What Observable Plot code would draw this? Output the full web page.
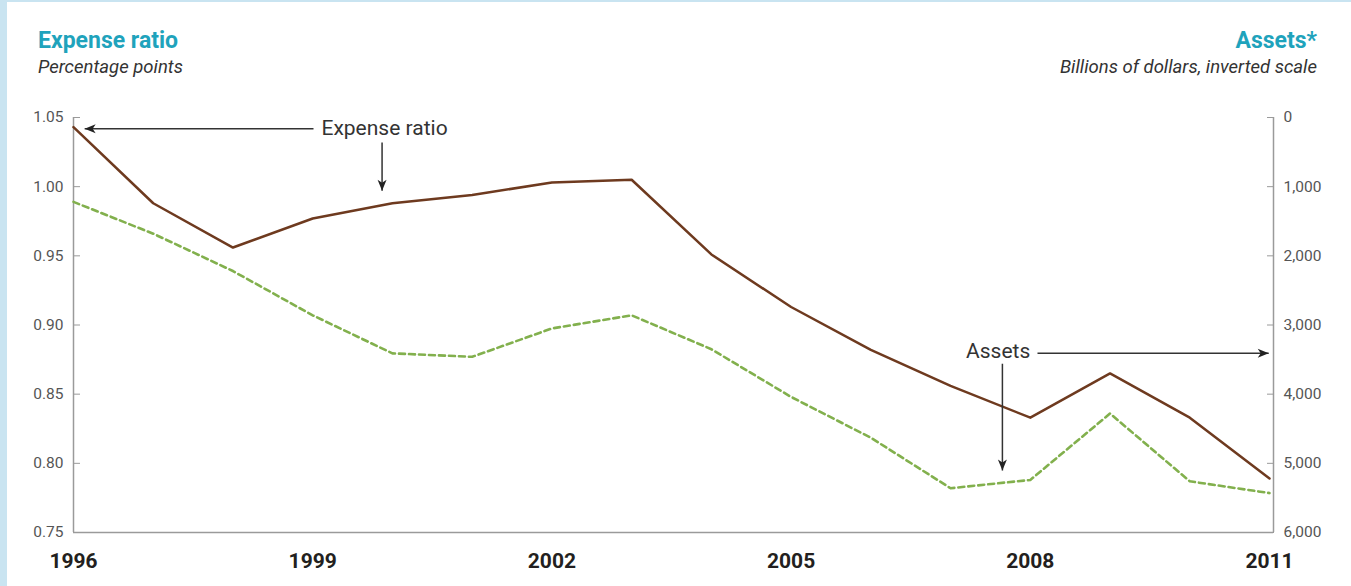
<!DOCTYPE html>
<html>
<head>
<meta charset="utf-8">
<script src="https://cdn.jsdelivr.net/npm/d3@7"></script>
<script src="https://cdn.jsdelivr.net/npm/@observablehq/plot@0.6"></script>
<style>
  html, body { margin: 0; padding: 0; background: #fff; }
  body { width: 1344px; height: 584px; border-left: 7px solid #c9e4f1; border-top: 2px solid #c9e4f1; font-family: Roboto, sans-serif; overflow: hidden; }
  #head { position: relative; height: 98px; }
  .title { position: absolute; font-size: 23px; font-weight: 700; color: #1fa3bc; line-height: 23px; white-space: nowrap; }
  .sub { position: absolute; font-size: 18.5px; font-style: italic; color: #333; line-height: 18px; white-space: nowrap; }
  #chart svg { display: block; }
</style>
</head>
<body>
<div id="head">
  <div class="title" style="left:31px; top:27px;">Expense ratio</div>
  <div class="sub" style="left:31px; top:56px;">Percentage points</div>
  <div class="title" style="right:34px; top:27px;">Assets*</div>
  <div class="sub" style="right:34px; top:56px;">Billions of dollars, inverted scale</div>
</div>
<div id="chart"></div>
<script>
// ---- data ----
const years = [1996, 1997, 1998, 1999, 2000, 2001, 2002, 2003, 2004, 2005, 2006, 2007, 2008, 2009, 2010, 2011];
const expenseRatio = [1.043, 0.988, 0.956, 0.977, 0.988, 0.994, 1.003, 1.005, 0.951, 0.913, 0.882, 0.856, 0.833, 0.865, 0.833, 0.789];
const assets = [1220, 1680, 2220, 2860, 3410, 3460, 3050, 2860, 3350, 4040, 4630, 5360, 5240, 4280, 5260, 5430];
const leftTicks = [0.75, 0.80, 0.85, 0.90, 0.95, 1.00, 1.05];
const rightTicks = [0, 1000, 2000, 3000, 4000, 5000, 6000];
const xTicks = [1996, 1999, 2002, 2005, 2008, 2011];

// annotation labels and arrows (data units: year, expense-ratio scale)
const startLabels = [{x: 1999.11, y: 1.042, text: "Expense ratio"}];
const endLabels = [{x: 2008.0, y: 0.881, text: "Assets"}];
const arrows = [
  {x1: 1999.01, y1: 1.0418, x2: 1996.14, y2: 1.0418, rot: -90},
  {x1: 1999.87, y1: 1.032, x2: 1999.87, y2: 0.997, rot: 180},
  {x1: 2008.09, y1: 0.8796, x2: 2010.99, y2: 0.8796, rot: 90},
  {x1: 2007.65, y1: 0.872, x2: 2007.65, y2: 0.7948, rot: 180}
];

// right (assets, inverted) axis mapped onto the left scale
const yMin = 0.75, yMax = 1.05, aMax = 6000;
const toLeft = a => yMax - (a / aMax) * (yMax - yMin);
const toAssets = v => (yMax - v) / (yMax - yMin) * aMax;

const table = years.map((year, i) => ({year, expense: expenseRatio[i], assets: assets[i]}));

const arrowHead = {
  draw(ctx) {
    ctx.moveTo(0, 0);
    ctx.lineTo(-4.5, 11);
    ctx.lineTo(0, 8);
    ctx.lineTo(4.5, 11);
    ctx.closePath();
  }
};

const axisColor = "#9a9a9a";

const chart = Plot.plot({
  width: 1344,
  height: 486,
  marginLeft: 66,
  marginRight: 78,
  marginTop: 17,
  marginBottom: 54,
  x: {domain: [1996, 2011.05]},
  y: {domain: [yMin, yMax]},
  style: {fontFamily: "Roboto, sans-serif", background: "transparent", overflow: "visible"},
  marks: [
    // axis lines
    Plot.ruleX([1996], {stroke: axisColor, strokeWidth: 1.5}),
    Plot.ruleX([2011.05], {stroke: axisColor, strokeWidth: 1.5}),
    Plot.ruleY([yMin], {stroke: axisColor, strokeWidth: 1.5}),
    // left axis
    Plot.axisY(leftTicks, {
      anchor: "left", tickSize: 7, dx: 7, tickPadding: 10,
      tickFormat: d3.format(".2f"), fontSize: 15.5, stroke: axisColor, fill: "#555", label: null
    }),
    // right axis (assets, inverted)
    Plot.axisY(rightTicks.map(toLeft), {
      anchor: "right", tickSize: 7, dx: -7, tickPadding: 10,
      tickFormat: v => d3.format(",")(Math.round(toAssets(v))), fontSize: 15.5, stroke: axisColor, fill: "#555", label: null
    }),
    // x axis
    Plot.axisX(xTicks, {
      anchor: "bottom", tickSize: 0, tickPadding: 21, tickFormat: d => String(d),
      fontSize: 21, fontWeight: 700, fill: "#231f20", label: null
    }),
    // series
    Plot.line(table, {x: "year", y: d => toLeft(d.assets), stroke: "#82b04d", strokeWidth: 2.6, strokeDasharray: "6,4"}),
    Plot.line(table, {x: "year", y: "expense", stroke: "#6e3a1f", strokeWidth: 2.5}),
    // annotations
    Plot.link(arrows, {x1: "x1", y1: "y1", x2: "x2", y2: "y2", stroke: "#333", strokeWidth: 1.5}),
    Plot.dot(arrows, {x: "x2", y: "y2", symbol: arrowHead, rotate: "rot", fill: "#222", stroke: null, r: 5}),
    Plot.text(startLabels, {x: "x", y: "y", text: "text", textAnchor: "start", fontSize: 21, fill: "#333", lineAnchor: "middle"}),
    Plot.text(endLabels, {x: "x", y: "y", text: "text", textAnchor: "end", fontSize: 21, fill: "#333", lineAnchor: "middle"})
  ]
});
document.getElementById("chart").appendChild(chart);
</script>
</body>
</html>
